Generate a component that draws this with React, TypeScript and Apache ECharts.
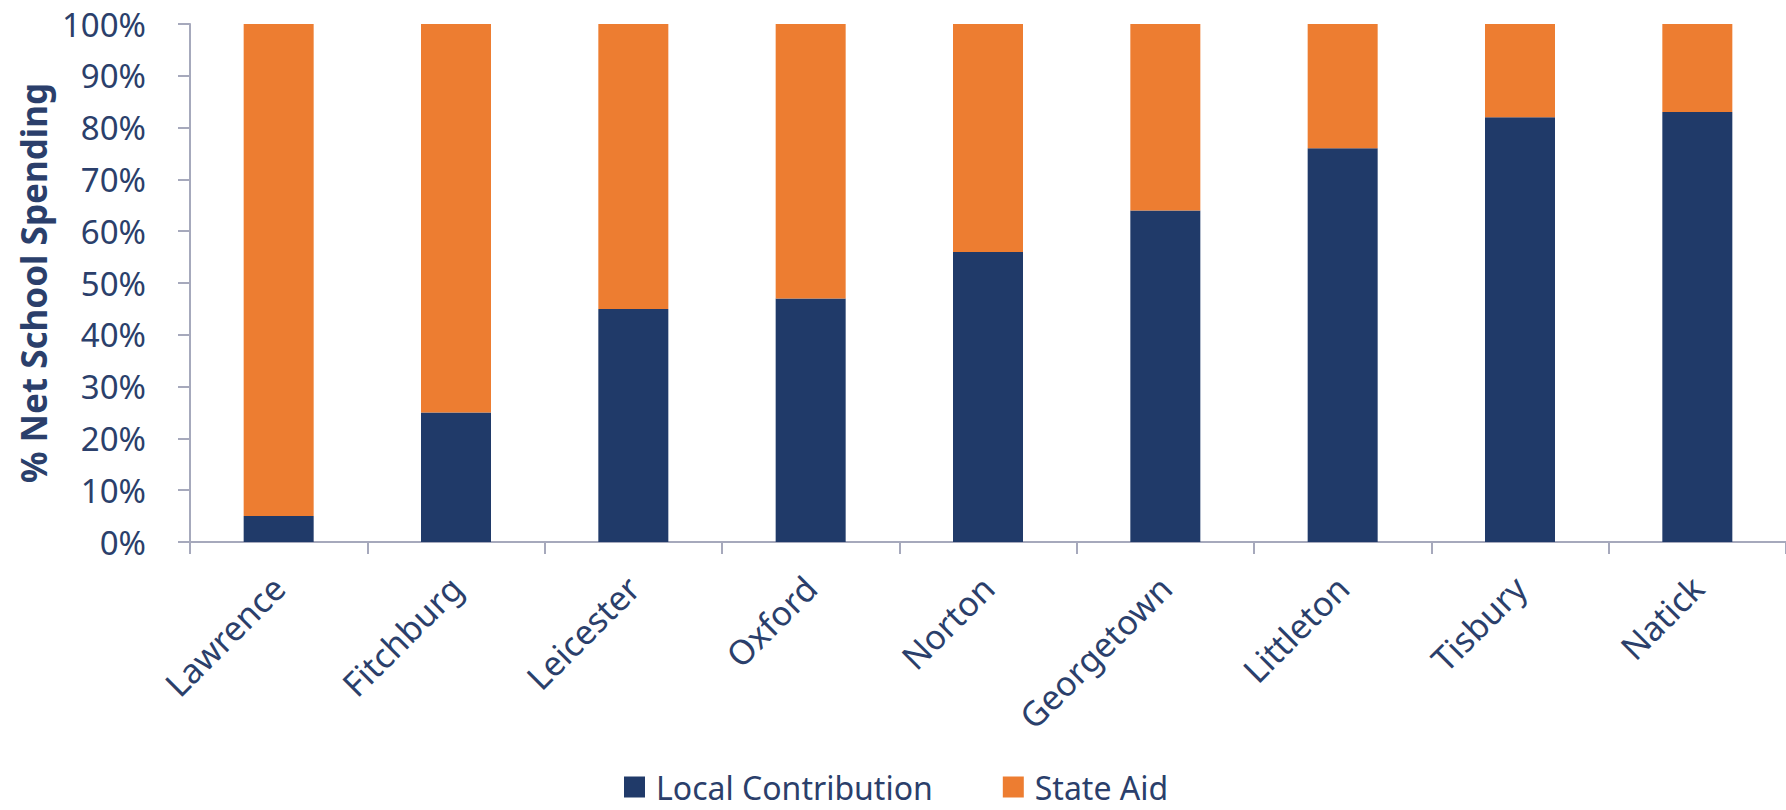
import React, { useEffect, useRef } from "react";
import * as echarts from "echarts";

const categories = ["Lawrence", "Fitchburg", "Leicester", "Oxford", "Norton", "Georgetown", "Littleton", "Tisbury", "Natick"];
const localContribution = [5, 25, 45, 47, 56, 64, 76, 82, 83];
const stateAid = [95, 75, 55, 53, 44, 36, 24, 18, 17];

const NAVY = "#203A69";
const ORANGE = "#ED7D31";
const TEXT = "#2B3F6B";
const FONT = "'Noto Sans', 'Open Sans', sans-serif";

export default function App() {
  const ref = useRef<HTMLDivElement>(null);
  useEffect(() => {
    if (!ref.current) return;
    const chart = echarts.init(ref.current, undefined, { renderer: "svg" });
    chart.setOption({
      animation: false,
      backgroundColor: "#ffffff",
      textStyle: { fontFamily: FONT },
      grid: { left: 190, right: -13, top: 24, bottom: 268, containLabel: false },
      legend: {
        top: 769,
        left: 624,
        itemWidth: 21,
        itemHeight: 21,
        itemGap: 70,
        padding: 0,
        icon: "rect",
        textStyle: { color: TEXT, fontSize: 32, lineHeight: 36, fontFamily: FONT, padding: [0, 0, 0, 6] },
        data: ["Local Contribution", "State Aid"],
      },
      xAxis: {
        type: "category",
        data: categories,
        boundaryGap: true,
        axisLine: { lineStyle: { color: "#A6A9BC", width: 2 } },
        axisTick: { show: true, length: 12, alignWithLabel: false, lineStyle: { color: "#A6A9BC", width: 2 } },
        axisLabel: { rotate: 45, color: TEXT, fontSize: 34, margin: 40, verticalAlign: "middle", padding: [14, 0, 0, 0], fontFamily: FONT, interval: 0 },
      },
      yAxis: {
        type: "value",
        min: 0,
        max: 100,
        interval: 10,
        name: "% Net School Spending",
        nameLocation: "middle",
        nameGap: 139,
        nameRotate: 90,
        nameTextStyle: { color: TEXT, fontSize: 35, fontWeight: "bold", fontFamily: FONT },
        axisLine: { show: true, lineStyle: { color: "#A6A9BC", width: 2 } },
        axisTick: { show: true, length: 12, lineStyle: { color: "#A6A9BC", width: 2 } },
        splitLine: { show: false },
        axisLabel: { color: TEXT, fontSize: 33, margin: 44, formatter: "{value}%", fontFamily: FONT },
      },
      series: [
        {
          name: "Local Contribution",
          type: "bar",
          stack: "total",
          barWidth: 70,
          data: localContribution,
          itemStyle: { color: NAVY },
        },
        {
          name: "State Aid",
          type: "bar",
          stack: "total",
          barWidth: 70,
          data: stateAid,
          itemStyle: { color: ORANGE },
        },
      ],
    });
    return () => chart.dispose();
  }, []);
  return <div ref={ref} style={{ position: "fixed", left: 0, top: 0, width: 1786, height: 810 }} />;
}
